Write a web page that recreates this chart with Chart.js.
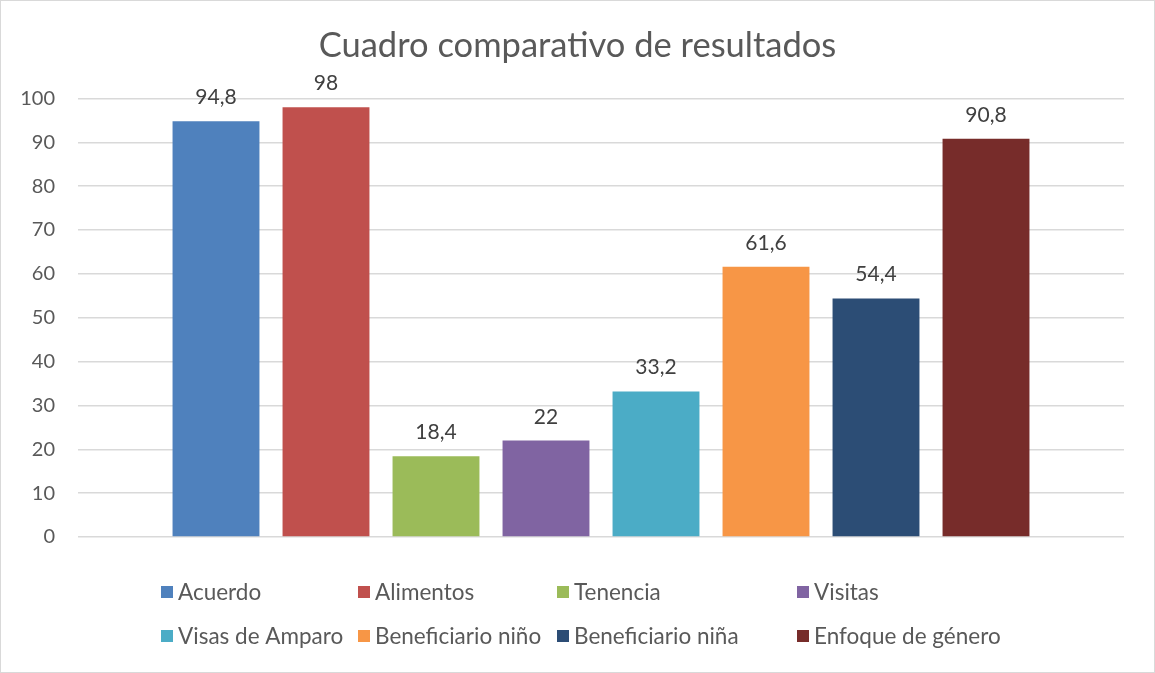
<!DOCTYPE html>
<html>
<head>
<meta charset="utf-8">
<script src="https://cdn.jsdelivr.net/npm/chart.js@4.4.1/dist/chart.umd.min.js"></script>
<style>
html,body{margin:0;padding:0;background:#fff;}
#wrap{width:1155px;height:673px;position:relative;}
</style>
</head>
<body>
<div id="wrap"><canvas id="c" width="1155" height="673"></canvas></div>
<script>
const title = 'Cuadro comparativo de resultados';
const categories = [''];
const seriesNames = ['Acuerdo','Alimentos','Tenencia','Visitas','Visas de Amparo','Beneficiario niño','Beneficiario niña','Enfoque de género'];
const seriesValues = [94.8, 98, 18.4, 22, 33.2, 61.6, 54.4, 90.8];
const seriesColors = ['#4F81BD','#C0504D','#9BBB59','#8064A2','#4BACC6','#F79646','#2C4D75','#772C2A'];
const yTicks = [0,10,20,30,40,50,60,70,80,90,100];

const FONT = 'Lato, "Liberation Sans", sans-serif';
const TEXT = '#595959';

const datasets = seriesNames.map((n,i)=>({
  label: n,
  data: [seriesValues[i]],
  backgroundColor: seriesColors[i],
  borderWidth: 0,
  categoryPercentage: 0.8413,
  barPercentage: 0.79
}));

const bgBorder = {
  id:'bgBorder',
  beforeDraw(chart){
    const c = chart.ctx;
    c.save();
    c.fillStyle='#fff';
    c.fillRect(0,0,chart.width,chart.height);
    c.strokeStyle='#d9d9d9';
    c.lineWidth=1;
    c.strokeRect(0.5,0.5,chart.width-1,chart.height-1);
    c.restore();
  }
};

const dataLabels = {
  id:'dataLabels',
  afterDatasetsDraw(chart){
    const c = chart.ctx;
    c.save();
    c.font = '21px ' + FONT;
    c.fillStyle = '#404040';
    c.textAlign = 'center';
    c.textBaseline = 'alphabetic';
    chart.data.datasets.forEach((ds,i)=>{
      const meta = chart.getDatasetMeta(i);
      meta.data.forEach((el,j)=>{
        const v = ds.data[j];
        c.fillText(String(v).replace('.',','), el.x, el.y - 17);
      });
    });
    c.restore();
  }
};

const legendCols = [161, 358, 557, 797];
const legendRows = [592, 636];
const customLegend = {
  id:'customLegend',
  afterDraw(chart){
    const c = chart.ctx;
    c.save();
    c.font = '22.5px ' + FONT;
    c.textBaseline = 'middle';
    c.textAlign = 'left';
    chart.data.datasets.forEach((ds,i)=>{
      const x = legendCols[i%4], y = legendRows[Math.floor(i/4)];
      c.fillStyle = ds.backgroundColor;
      c.fillRect(x, y-6, 12, 12);
      c.fillStyle = TEXT;
      c.fillText(ds.label, x+17, y+1);
    });
    c.restore();
  }
};

new Chart(document.getElementById('c'), {
  type:'bar',
  data:{ labels: categories, datasets },
  options:{
    responsive:false,
    animation:false,
    devicePixelRatio:1,
    layout:{ padding:{ top:0, left:0, right:0, bottom:136 } },
    plugins:{
      legend:{ display:false },
      tooltip:{ enabled:false },
      title:{
        display:true,
        text: title,
        color: TEXT,
        font:{ family: FONT, size:34.5, weight:'normal' },
        padding:{ top:25, bottom:32 }
      }
    },
    scales:{
      x:{ display:false },
      y:{
        min:0, max:100,
        afterFit(s){ s.width = 78; },
        afterBuildTicks(s){ s.ticks = yTicks.map(v=>({value:v})); },
        ticks:{ color:TEXT, font:{ family:FONT, size:20 }, padding:23 },
        grid:{ color:'#d9d9d9', lineWidth:1.5, drawTicks:false },
        border:{ display:false }
      },
      yRight:{
        type:'linear',
        position:'right',
        min:0, max:100,
        afterFit(s){ s.width = 31; },
        ticks:{ display:false },
        grid:{ display:false, drawTicks:false },
        border:{ display:false }
      }
    }
  },
  plugins:[bgBorder, dataLabels, customLegend]
});
</script>
</body>
</html>
